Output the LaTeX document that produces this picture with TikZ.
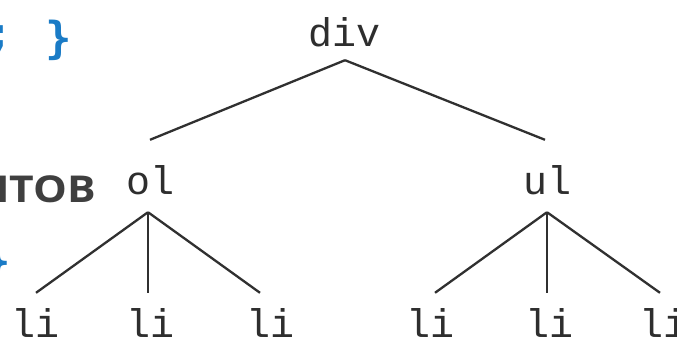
\documentclass[tikz,border=0pt]{standalone}
\usepackage{fontspec}
\setmonofont{Liberation Mono}
\newfontfamily\gsans{Open Sans}
\newfontfamily\codefont{DejaVu Sans Mono}
\definecolor{codeblue}{HTML}{1A7BC6}
\definecolor{headgray}{HTML}{3F3F3F}
\definecolor{edgegray}{HTML}{303030}
\begin{document}
\begin{tikzpicture}[x=1pt,y=-1pt,
  tn/.style={font=\fontsize{40}{40}\selectfont\ttfamily, inner sep=0pt, text height=32pt, text depth=0pt, text=black!82},
  edge/.style={draw=edgegray, line width=2.3pt},
  code/.style={font=\fontsize{44}{44}\selectfont\codefont\bfseries, text=codeblue, inner sep=0pt},
  head/.style={font=\fontsize{37}{37}\selectfont\gsans\bfseries, text=headgray, inner sep=0pt}]
\useasboundingbox (0,0) rectangle (677,341);
\clip (0,0) rectangle (677,341);
\fill[white] (0,0) rectangle (677,341);
% cut-off text on the left
\node[code, anchor=east] (c0) at (13,40) {;};
\node[code, anchor=east] (c1) at (72,40) {\}};
\node[head, anchor=east] (h1) at (96,189) {\scalebox{1.15}[1]{НТОВ}};
\node[code, anchor=east] (c2) at (11,263) {\}};
% tree
\node[tn] (div) at (345,30) {div};
\node[tn] (ol) at (151,178) {ol};
\node[tn] (ul) at (547,178) {ul};
\node[tn] (l1) at (36,321) {li};
\node[tn] (l2) at (151,321) {li};
\node[tn] (l3) at (271,321) {li};
\node[tn] (l4) at (430,321) {li};
\node[tn] (l5) at (549,321) {li};
\node[tn] (l6) at (663,321) {li};
\path[edge] ([yshift=-14pt]div.south) -- ([shift={(-1pt,22pt)}]ol.north);
\path[edge] ([yshift=-14pt]div.south) -- ([shift={(-2pt,22pt)}]ul.north);
\path[edge] ([shift={(-3pt,-18pt)}]ol.south) -- ([yshift=12pt]l1.north);
\path[edge] ([shift={(-3pt,-18pt)}]ol.south) -- ([shift={(-3pt,12pt)}]l2.north);
\path[edge] ([shift={(-3pt,-18pt)}]ol.south) -- ([shift={(-11pt,12pt)}]l3.north);
\path[edge] ([yshift=-18pt]ul.south) -- ([shift={(5pt,12pt)}]l4.north);
\path[edge] ([yshift=-18pt]ul.south) -- ([shift={(-2pt,12pt)}]l5.north);
\path[edge] ([yshift=-18pt]ul.south) -- ([shift={(-3pt,12pt)}]l6.north);
\end{tikzpicture}
\end{document}
